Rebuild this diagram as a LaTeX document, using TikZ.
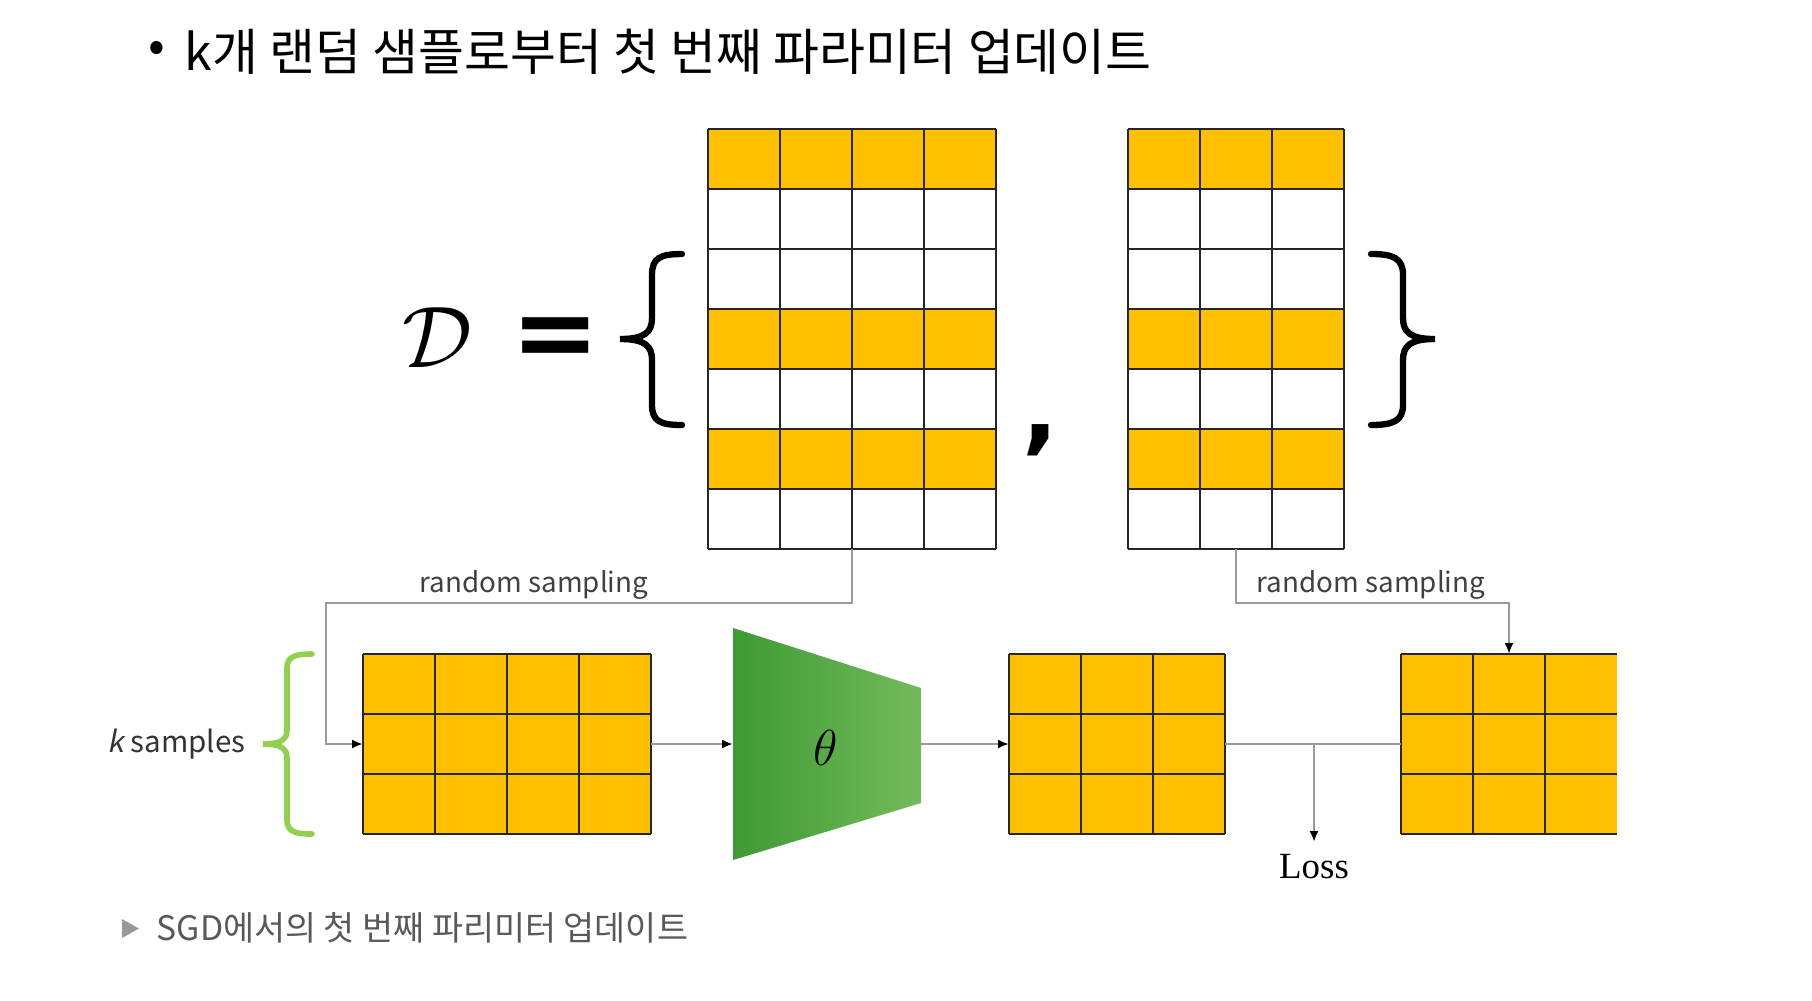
\documentclass[tikz,border=0pt]{standalone}
\usepackage{fontspec}
\setmainfont{Noto Sans CJK KR}
\newfontfamily\lossfont{Liberation Serif}
\newfontfamily\symfont{DejaVu Sans}
\newfontfamily\kfont[FakeSlant=0.2]{Noto Sans CJK KR}
\usetikzlibrary{positioning,arrows.meta,calc}
\definecolor{cellyellow}{HTML}{FFC000}
\definecolor{netdark}{HTML}{3E9A33}
\definecolor{netlight}{HTML}{74BA5C}
\definecolor{kgreen}{HTML}{92D050}
\definecolor{flowgray}{HTML}{9A9A9A}
\begin{document}
\begin{tikzpicture}[x=0.1mm, y=-0.1mm, >={Latex[length=1.1mm,width=0.9mm,color=black]},
  every node/.style={inner sep=0pt},
  cellline/.style={draw=black!85, line width=0.6pt},
  matnode/.style={inner sep=0pt, outer sep=0pt},
  flow/.style={draw=flowgray, line width=0.7pt},
  bigbrace/.style={line width=1.8pt, line cap=round},
  kbrace/.style={draw=kgreen, line width=1.6pt, line cap=round},
  smp/.style={font=\fontsize{7.9}{9}\selectfont, text=black!75}]
  \useasboundingbox (0,0) rectangle (1812,1000);
  % title
  \node[font=\fontsize{14}{16}\selectfont] (bullet) at (157,52) {•};
  \node[anchor=west, font=\fontsize{14.2}{16}\selectfont] (title) at (184,52) {k개 랜덤 샘플로부터 첫 번째 파라미터 업데이트};
  % D = { X , Y }
  \node (D) at (437,338) {\fontsize{33}{33}\selectfont$\mathcal{D}$};
  \node (eq) at (556,343) {\symfont\bfseries\fontsize{30}{30}\selectfont =};
  \foreach \nm/\ox/\nc in {X/708/4, Y/1128/3} {
    \begin{scope}[shift={(\ox,129)}]
      \foreach \r in {0,3,5} \fill[cellyellow] (0,\r*60) rectangle (\nc*72,\r*60+60);
      \foreach \c in {0,...,\nc} \draw[cellline] (\c*72,0) -- (\c*72,420);
      \foreach \r in {0,...,7} \draw[cellline] (0,\r*60) -- (\nc*72,\r*60);
      \node[matnode, minimum width=\nc*7.2mm, minimum height=42mm] (\nm) at (\nc*36,210) {};
    \end{scope}
  }
  \node (comma) at (1041,440) {\symfont\bfseries\fontsize{27}{27}\selectfont ,};
  \draw[bigbrace] (682,254) .. controls (660,254) and (652,258) .. (652,275) -- (652,318)
    .. controls (652,332) and (645,339) .. (620,339) .. controls (645,339) and (652,346) .. (652,360)
    -- (652,405) .. controls (652,421) and (660,425) .. (682,425);
  \draw[bigbrace] (1371,254) .. controls (1393,254) and (1403,258) .. (1403,275) -- (1403,318)
    .. controls (1403,332) and (1410,339) .. (1435,339) .. controls (1410,339) and (1403,346) .. (1403,360)
    -- (1403,405) .. controls (1403,421) and (1393,425) .. (1371,425);
  % k samples
  \foreach \nm/\ox/\nc/\nv in {A/363/4/4, B/1009/3/3, C/1401/3/2} {
    \begin{scope}[shift={(\ox,654)}]
      \fill[cellyellow] (0,0) rectangle (\nc*72,180);
      \foreach \c in {0,...,\nv} \draw[cellline] (\c*72,0) -- (\c*72,180);
      \foreach \r in {0,...,3} \draw[cellline] (0,\r*60) -- (\nc*72,\r*60);
      \node[matnode, minimum width=\nc*7.2mm, minimum height=18mm] (\nm) at (\nc*36,90) {};
    \end{scope}
  }
  \node[smp, anchor=east, text=black!80, font=\fontsize{8.4}{10}\selectfont] (ks) at (246,744) {{\kfont k} samples};
  \draw[kbrace] (312,654) .. controls (296,654) and (287,656) .. (287,668) -- (287,730)
    .. controls (287,740) and (280,744) .. (263,744) .. controls (280,744) and (287,748) .. (287,758)
    -- (287,820) .. controls (287,832) and (296,834) .. (312,834);
  % network
  \shade[left color=netdark, right color=netlight] (733,628) -- (921,688) -- (921,803) -- (733,860) -- cycle;
  \node[font=\fontsize{14}{14}\selectfont] (theta) at (826,748) {$\theta$};
  \coordinate (netin) at (733,744);
  \coordinate (netout) at (921,744);
  % connectors
  \coordinate (turnA) at (326,744);
  \draw[flow,->] (X.south) -- ++(0,54) -| (turnA) -- (A.west);
  \draw[flow,->] (Y.south) -- ++(0,54) -| (C.north);
  \node[smp] (rsA) at (534,585) {random sampling};
  \node[smp] (rsC) at (1371,585) {random sampling};
  \draw[flow,->] (A.east) -- (netin);
  \draw[flow,->] (netout) -- (B.west);
  \draw[flow] (B.east) -- (C.west);
  \coordinate (split) at (1314,744);
  \node[font=\lossfont\fontsize{10.5}{12}\selectfont] (loss) at (1314,867) {Loss};
  \draw[flow,->, shorten >=1.2mm] (split) -- (loss.north);
  % caption
  \fill[black!40] (122,919) -- (139,928.5) -- (122,938) -- cycle;
  \node[anchor=west, font=\fontsize{9.6}{11}\selectfont, text=black!65] (cap) at (156,928) {SGD에서의 첫 번째 파리미터 업데이트};
\end{tikzpicture}
\end{document}
